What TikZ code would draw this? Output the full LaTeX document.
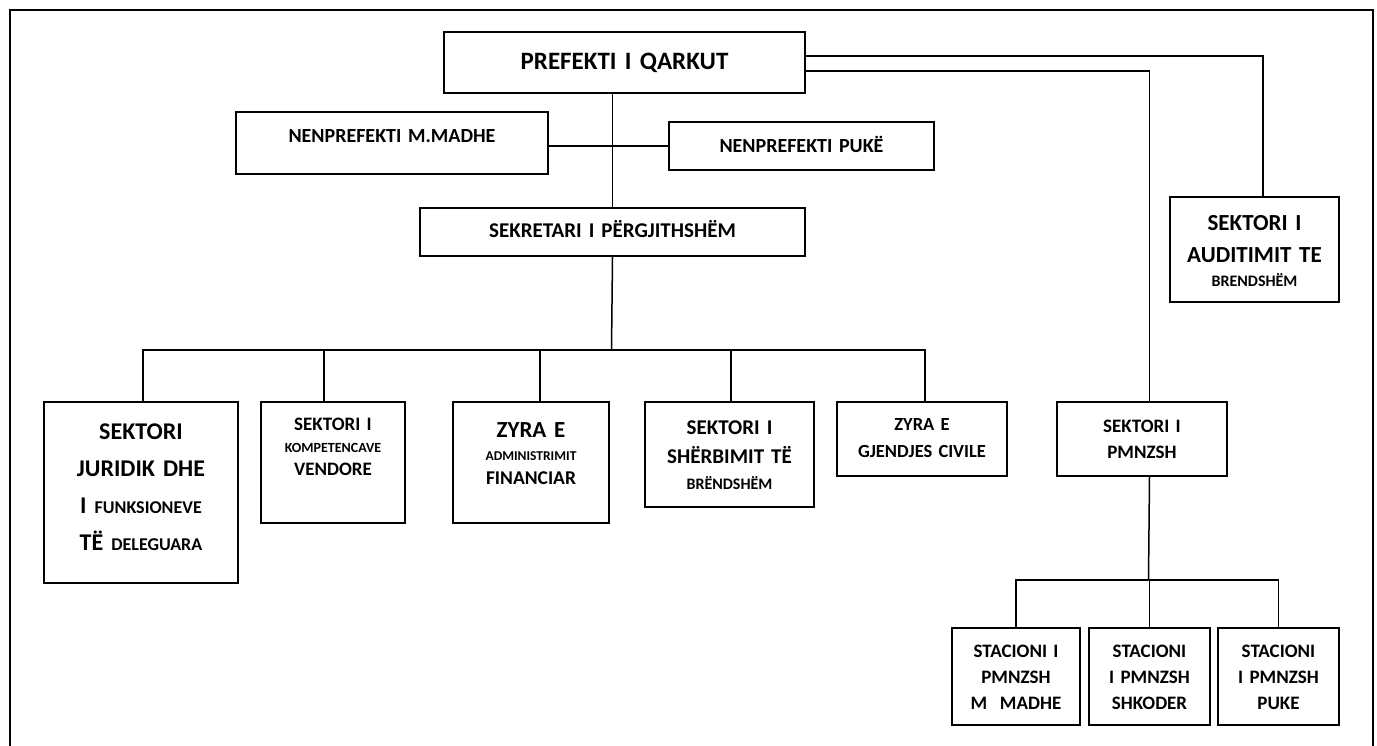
\documentclass[tikz,border=0pt]{standalone}
\usepackage{fontspec}
\setmainfont{Carlito}
\newcommand{\fsz}[2]{\fontsize{#1}{#2}\selectfont}

\tikzset{
  unit/.style={draw, line width=2pt, anchor=north west, inner sep=0pt, align=center},
  link/.style={line width=1.5pt}
}

\begin{document}
\begin{tikzpicture}[x=1pt, y=-1pt]
    \useasboundingbox (0,0) rectangle (1377,746);
    \draw[line width=2.5pt] (10,746) |- (1373,10) -- (1373,746);

    \node[unit, text width=361pt, text height=38pt, text depth=23pt, font=\bfseries\fsz{25}{30}] (prefekt) at (443,31) {PREFEKTI I QARKUT};
    \node[unit, text width=312pt, text height=31pt, text depth=31pt, font=\bfseries\fsz{20}{24}] (nenmadhe) at (235,111) {NENPREFEKTI M.MADHE};
    \node[unit, text width=265pt, text height=31pt, text depth=17pt, font=\bfseries\fsz{20}{24}] (nenpuke) at (668,121) {NENPREFEKTI PUKË};
    \node[unit, text width=385pt, text height=30pt, text depth=18pt, font=\bfseries\fsz{21}{25}] (sekretar) at (419,207) {SEKRETARI I PËRGJITHSHËM};
    \node[unit, text width=169pt, text height=34pt, text depth=71pt, font=\bfseries\fsz{23}{32}] (audit) at (1169,196)
        {SEKTORI I\\AUDITIMIT TE\\[-8pt]{\fsz{16}{18}BRENDSHËM}};

    \node[unit, text width=194pt, text height=37pt, text depth=144pt, font=\bfseries\fsz{24}{37.3}] (juridik) at (43,401)
        {SEKTORI\\JURIDIK DHE\\I {\fsz{18}{20}FUNKSIONEVE}\\TË {\fsz{18}{20}DELEGUARA}};
    \node[unit, text width=144pt, text height=28pt, text depth=93pt, font=\bfseries\fsz{19}{22.5}] (komp) at (260,401)
        {SEKTORI I\\{\fsz{14}{16}KOMPETENCAVE}\\VENDORE};
    \node[unit, text width=156pt, text height=35pt, text depth=86pt, font=\bfseries\fsz{23}{23.5}] (admin) at (452,401)
        {ZYRA E\\{\fsz{13.5}{15}ADMINISTRIMIT}\\{\fsz{19.5}{22}FINANCIAR}};
    \node[unit, text width=169pt, text height=32pt, text depth=73pt, font=\bfseries\fsz{21}{29}] (sherb) at (644,401)
        {SEKTORI I\\SHËRBIMIT TË\\[-3pt]{\fsz{16}{18}BRËNDSHËM}};
    \node[unit, text width=170pt, text height=28pt, text depth=46pt, font=\bfseries\fsz{18.5}{27}] (gjendje) at (836,401)
        {ZYRA E\\GJENDJES CIVILE};
    \node[unit, text width=170pt, text height=30pt, text depth=44pt, font=\bfseries\fsz{19}{26}] (pmnzsh) at (1056,401)
        {SEKTORI I\\PMNZSH};

    \node[unit, text width=128pt, text height=29pt, text depth=68pt, font=\bfseries\fsz{19}{26}] (st1) at (951,627)
        {STACIONI I\\PMNZSH\\M\ \ MADHE};
    \node[unit, text width=121pt, text height=29pt, text depth=68pt, font=\bfseries\fsz{19}{26}] (st2) at (1088,627)
        {STACIONI\\I PMNZSH\\SHKODER};
    \node[unit, text width=121pt, text height=29pt, text depth=68pt, font=\bfseries\fsz{19}{26}] (st3) at (1217,627)
        {STACIONI\\I PMNZSH\\PUKE};

    \coordinate (bus) at (611.5,350);
    \coordinate (stbus) at (1148.5,580);

    \draw[link] (sekretar.north) -- (sekretar.north |- prefekt.south);
    \draw[link] (nenmadhe.east |- nenpuke.west) -- (nenpuke.west);
    \draw[link] ([yshift=6.5pt]prefekt.east) -| ([xshift=8.5pt]audit.north);
    \draw[link] ([yshift=-8.5pt]prefekt.east) -| ([xshift=7.5pt]pmnzsh.north);
    \draw[link] (sekretar.south) -- (bus);
    \foreach \n/\dx in {juridik/2pt, komp/-9pt, admin/9pt, sherb/1.5pt, gjendje/3pt}
        \draw[link] ([xshift=\dx]\n.north) |- (bus);
    \draw[link] ([xshift=7.5pt]pmnzsh.south) -- (stbus);
    \foreach \n in {st1, st2, st3}
        \draw[link] (\n.north) |- (stbus);
\end{tikzpicture}
\end{document}
